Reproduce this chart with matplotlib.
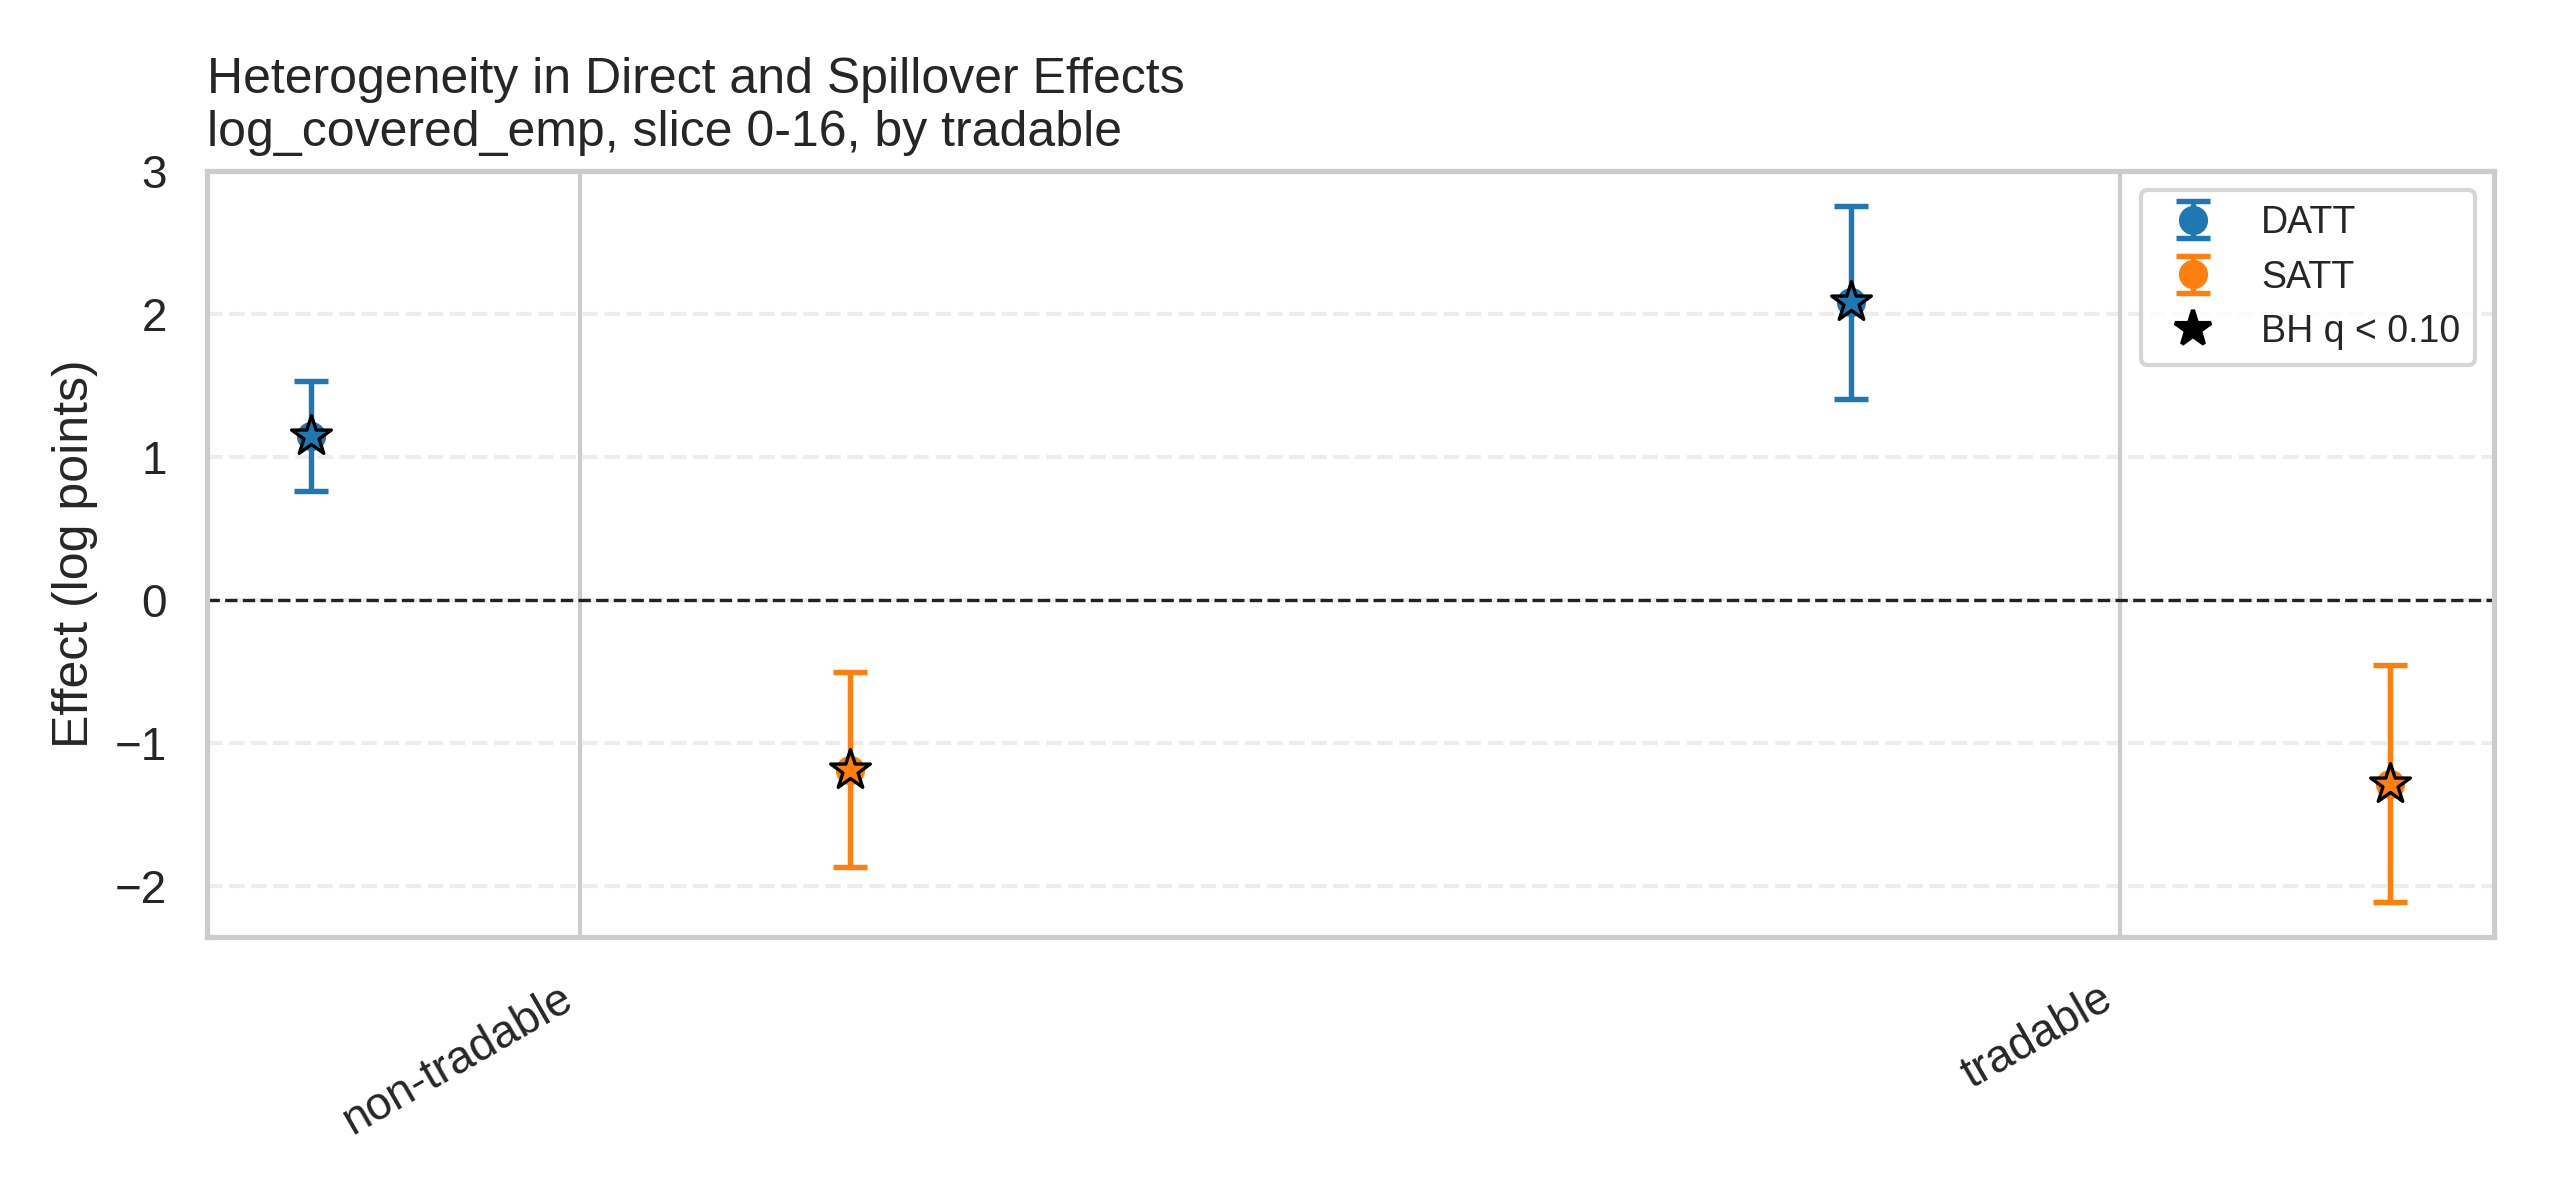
import numpy as np
import matplotlib
matplotlib.use("Agg")
import matplotlib.pyplot as plt
from matplotlib.lines import Line2D
import seaborn as sns

# ---- data ----
groups = ["non-tradable", "tradable"]
datt_est = [1.147, 2.083]
datt_lo = [0.760, 1.408]
datt_hi = [1.533, 2.758]
satt_est = [-1.188, -1.287]
satt_lo = [-1.870, -2.114]
satt_hi = [-0.506, -0.459]
datt_sig = [True, True]
satt_sig = [True, True]

title = "Heterogeneity in Direct and Spillover Effects\nlog_covered_emp, slice 0-16, by tradable"
ylabel = "Effect (log points)"

sns.set_theme(style="whitegrid", context="notebook")
plt.rcParams["font.family"] = ["Liberation Sans", "DejaVu Sans"]

fig, ax = plt.subplots(figsize=(8.5, 4), dpi=300)
fig.subplots_adjust(left=0.081, right=0.978, top=0.8575, bottom=0.2194)

x = np.arange(len(groups))
off = 0.175
blue = "#1f77b4"
orange = "#ff7f0e"

def draw(xpos, est, lo, hi, sig, color, label):
    est = np.asarray(est); lo = np.asarray(lo); hi = np.asarray(hi)
    yerr = np.vstack([est - lo, hi - est])
    ax.errorbar(xpos, est, yerr=yerr, fmt="o", color=color, ecolor=color,
                capsize=4, elinewidth=1.3, capthick=1.3, markersize=6,
                label=label, zorder=3)
    sx = [p for p, s in zip(xpos, sig) if s]
    sy = [v for v, s in zip(est, sig) if s]
    ax.scatter(sx, sy, marker="*", s=100, facecolor=color, edgecolor="black",
               linewidth=0.8, zorder=5)

draw(x - off, datt_est, datt_lo, datt_hi, datt_sig, blue, "DATT")
draw(x + off, satt_est, satt_lo, satt_hi, satt_sig, orange, "SATT")

ax.axhline(0, color="#222222", linestyle="--", linewidth=0.8, zorder=2)

ax.set_xticks(x)
ax.set_xticklabels(groups, rotation=30, ha="right")
ax.set_ylabel(ylabel)
ax.set_title(title, loc="left", fontsize=12)
ax.grid(axis="y", linestyle="--", alpha=0.35)

handles, labels = ax.get_legend_handles_labels()
handles.append(Line2D([], [], marker="*", color="black", linestyle="",
                      markersize=9))
labels.append("BH q < 0.10")
ax.legend(handles, labels, loc="upper right", fontsize=9)

fig.savefig("out.png", dpi=300)
